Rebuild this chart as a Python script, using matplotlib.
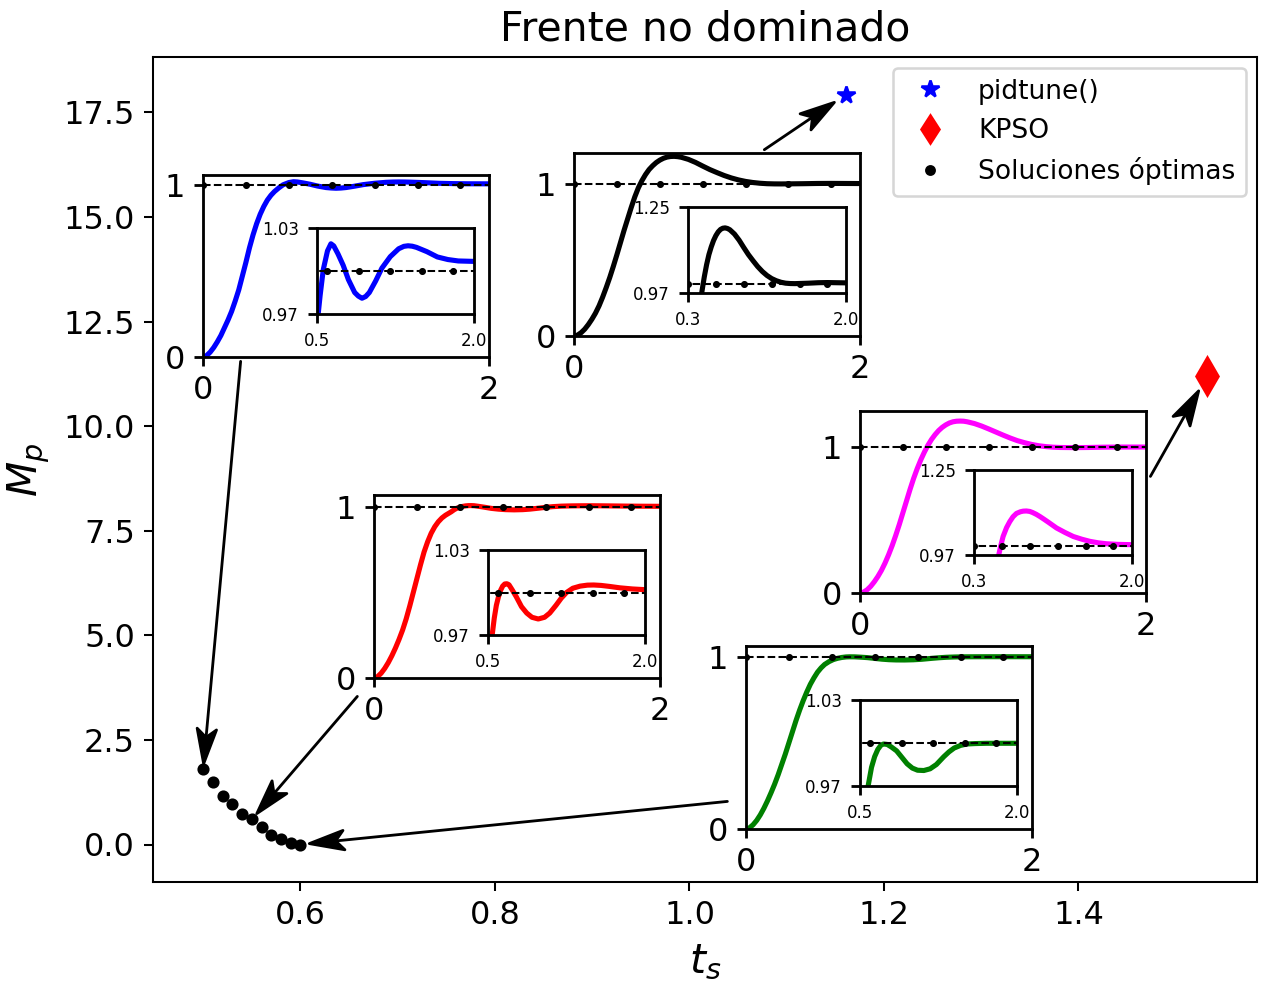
import numpy as np
import matplotlib
matplotlib.use("Agg")
import matplotlib.pyplot as plt
from matplotlib.patches import ArrowStyle
from matplotlib.path import Path
from matplotlib.lines import Line2D

# Non-dominated front: settling time vs. overshoot
front_ts = [0.50, 0.51, 0.52, 0.53, 0.54, 0.55, 0.56, 0.57, 0.58, 0.59, 0.60]
front_mp = [1.81, 1.49, 1.17, 0.97, 0.72, 0.60, 0.41, 0.22, 0.12, 0.04, 0.00]

pidtune_ts, pidtune_mp = 1.161, 17.93
kpso_ts, kpso_mp = 1.532, 11.19

# Unit reference for the step responses
ref_t = [0.0, 0.3, 0.6, 0.9, 1.2, 1.5, 1.8, 2.1]
ref_y = [1.0, 1.0, 1.0, 1.0, 1.0, 1.0, 1.0, 1.0]

# Step responses (time, output)
blue_t = [0, 0.025, 0.05, 0.075, 0.10, 0.125, 0.15, 0.175, 0.20, 0.225, 0.25, 0.275,
          0.30, 0.325, 0.35, 0.375, 0.40, 0.425, 0.45, 0.475, 0.50, 0.53, 0.56, 0.60,
          0.633, 0.66, 0.70, 0.75, 0.80, 0.86, 0.895, 0.93, 0.965, 1.00, 1.06, 1.12,
          1.20, 1.28, 1.33, 1.37, 1.41, 1.45, 1.55, 1.65, 1.75, 1.85, 2.00]
blue_y = [0, 0.008, 0.028, 0.055, 0.088, 0.125, 0.17, 0.215, 0.265, 0.325, 0.39, 0.47,
          0.55, 0.635, 0.71, 0.775, 0.83, 0.875, 0.912, 0.94, 0.962, 0.983, 1.001, 1.014,
          1.019, 1.0175, 1.012, 1.004, 0.994, 0.985, 0.9825, 0.981, 0.9822, 0.985, 0.993, 1.002,
          1.010, 1.0155, 1.0172, 1.0176, 1.0173, 1.0165, 1.0135, 1.0098, 1.008, 1.007, 1.0067]

black_t = [0, 0.025, 0.05, 0.075, 0.10, 0.125, 0.15, 0.175, 0.20, 0.225, 0.25, 0.275,
           0.30, 0.325, 0.35, 0.375, 0.40, 0.425, 0.45, 0.475, 0.50, 0.525, 0.55, 0.575,
           0.60, 0.625, 0.65, 0.675, 0.70, 0.725, 0.75, 0.80, 0.85, 0.90, 0.95, 1.00,
           1.05, 1.10, 1.15, 1.20, 1.25, 1.30, 1.35, 1.40, 1.45, 1.50, 1.60, 1.70, 1.80,
           1.90, 2.00]
black_y = [0, 0.006, 0.022, 0.045, 0.075, 0.11, 0.15, 0.198, 0.255, 0.318, 0.385, 0.458,
           0.535, 0.615, 0.695, 0.77, 0.845, 0.915, 0.975, 1.022, 1.062, 1.095, 1.12, 1.141,
           1.157, 1.169, 1.177, 1.181, 1.182, 1.18, 1.176, 1.162, 1.142, 1.118, 1.095, 1.075,
           1.056, 1.04, 1.027, 1.017, 1.01, 1.005, 1.002, 1.0008, 1.0005, 1.001, 1.002, 1.0035,
           1.004, 1.0035, 1.003]

magenta_t = [0, 0.025, 0.05, 0.075, 0.10, 0.125, 0.15, 0.175, 0.20, 0.225, 0.25, 0.275,
             0.30, 0.325, 0.35, 0.375, 0.40, 0.425, 0.45, 0.475, 0.50, 0.525, 0.55, 0.575,
             0.60, 0.625, 0.65, 0.675, 0.70, 0.725, 0.75, 0.80, 0.85, 0.90, 0.95, 1.00,
             1.05, 1.10, 1.15, 1.20, 1.25, 1.30, 1.35, 1.40, 1.50, 1.60, 1.70, 1.80, 1.90,
             2.00]
magenta_y = [0, 0.006, 0.022, 0.046, 0.077, 0.113, 0.155, 0.205, 0.262, 0.325, 0.395, 0.47,
             0.55, 0.63, 0.71, 0.785, 0.852, 0.912, 0.965, 1.012, 1.052, 1.085, 1.113, 1.135,
             1.152, 1.165, 1.173, 1.177, 1.178, 1.177, 1.173, 1.161, 1.144, 1.124, 1.103, 1.082,
             1.062, 1.044, 1.03, 1.018, 1.009, 1.003, 0.999, 0.997, 0.996, 0.997, 0.999, 1.0,
             1.0, 1.0]
magenta_zoom_t = [0.55, 0.566, 0.59, 0.613, 0.65, 0.685, 0.72, 0.757, 0.80, 0.83, 0.864,
                  0.90, 0.93, 0.97, 1.008, 1.05, 1.10, 1.188, 1.28, 1.368, 1.46, 1.547,
                  1.64, 1.727, 1.85, 2.0]
magenta_zoom_y = [0.955, 0.97, 1.003, 1.031, 1.060, 1.080, 1.096, 1.107, 1.1125, 1.1145, 1.115,
                  1.1135, 1.110, 1.104, 1.097, 1.0885, 1.078, 1.059, 1.044, 1.031, 1.022, 1.015,
                  1.010, 1.007, 1.005, 1.004]

red_t = [0, 0.025, 0.05, 0.075, 0.10, 0.125, 0.15, 0.175, 0.20, 0.225, 0.25, 0.275,
         0.30, 0.325, 0.35, 0.375, 0.40, 0.425, 0.45, 0.475, 0.50, 0.52, 0.54, 0.56,
         0.58, 0.60, 0.62, 0.64, 0.66, 0.68, 0.70, 0.73, 0.77, 0.82, 0.87, 0.92, 0.98,
         1.04, 1.09, 1.15, 1.20, 1.25, 1.31, 1.38, 1.45, 1.51, 1.58, 1.66, 1.76, 1.88, 2.00]
red_y = [0, 0.008, 0.028, 0.056, 0.09, 0.13, 0.175, 0.225, 0.28, 0.345, 0.42, 0.50,
         0.58, 0.66, 0.735, 0.795, 0.845, 0.883, 0.912, 0.934, 0.95, 0.96, 0.970, 0.982,
         0.991, 0.997, 1.0015, 1.0045, 1.006, 1.0062, 1.0055, 1.002, 0.997, 0.990, 0.9855,
         0.9825, 0.9813, 0.9825, 0.9855, 0.991, 0.996, 1.0, 1.003, 1.0045, 1.0052, 1.0053,
         1.005, 1.0043, 1.0033, 1.0025, 1.002]

green_t = [0, 0.025, 0.05, 0.075, 0.10, 0.125, 0.15, 0.175, 0.20, 0.225, 0.25, 0.275,
           0.30, 0.325, 0.35, 0.375, 0.40, 0.425, 0.45, 0.475, 0.50, 0.525, 0.55, 0.58,
           0.61, 0.64, 0.67, 0.70, 0.725, 0.76, 0.80, 0.85, 0.90, 0.95, 1.00, 1.05, 1.11,
           1.17, 1.23, 1.30, 1.35, 1.40, 1.46, 1.52, 1.60, 1.71, 2.00]
green_y = [0, 0.007, 0.025, 0.05, 0.082, 0.12, 0.163, 0.21, 0.26, 0.315, 0.375, 0.435,
           0.50, 0.565, 0.63, 0.69, 0.745, 0.795, 0.84, 0.877, 0.91, 0.935, 0.955, 0.971,
           0.983, 0.9905, 0.9955, 0.9985, 0.9993, 0.999, 0.9972, 0.9945, 0.990, 0.9855, 0.9825,
           0.981, 0.9808, 0.982, 0.985, 0.9904, 0.9938, 0.9965, 0.9983, 0.9993, 0.9996, 0.9998,
           0.9998]


class Stealth(ArrowStyle._Base):
    """Thin shaft with a filled, swept-back arrow head."""

    def __init__(self, head_length=0.68, head_width=0.19, overhang=0.24):
        self.head_length = head_length
        self.head_width = head_width
        self.overhang = overhang
        super().__init__()

    def transmute(self, path, mutation_size, linewidth):
        (x0, y0), (x1, y1) = path.vertices[0], path.vertices[-1]
        dx, dy = x1 - x0, y1 - y0
        length = np.hypot(dx, dy)
        ux, uy = dx / length, dy / length
        px, py = -uy, ux
        hl = self.head_length * mutation_size
        hw = self.head_width * mutation_size
        bx, by = x1 - ux * hl, y1 - uy * hl
        nx, ny = x1 - ux * hl * (1 - self.overhang), y1 - uy * hl * (1 - self.overhang)
        head = Path([(x1, y1), (bx + px * hw, by + py * hw), (nx, ny),
                     (bx - px * hw, by - py * hw), (x1, y1)],
                    [Path.MOVETO, Path.LINETO, Path.LINETO, Path.LINETO, Path.CLOSEPOLY])
        shaft = Path([(x0, y0), (nx, ny)], [Path.MOVETO, Path.LINETO])
        return [shaft, head], [False, True]


DPI = 184
fig = plt.figure(figsize=(1262 / DPI, 984 / DPI), dpi=DPI)
ax = fig.add_axes([153 / 1262, 102 / 984, 1104 / 1262, 825 / 984])

ax.plot(pidtune_ts, pidtune_mp, '*', color='blue', ms=7)
ax.plot(kpso_ts, kpso_mp, 'd', color='red', ms=10.5)
ax.plot(front_ts, front_mp, '.', color='black', ms=7.5)

ax.set_xticks([0.6, 0.8, 1.0, 1.2, 1.4])
ax.set_yticks([0.0, 2.5, 5.0, 7.5, 10.0, 12.5, 15.0, 17.5])
ax.tick_params(labelsize=12.5)
ax.set_xlabel('$t_s$', fontsize=16)
ax.set_ylabel('$M_p$', fontsize=16)
ax.set_title('Frente no dominado', fontsize=16, pad=6.5)

handles = [Line2D([], [], ls='none', marker='*', color='blue', ms=7),
           Line2D([], [], ls='none', marker='d', color='red', ms=8),
           Line2D([], [], ls='none', marker='.', color='black', ms=6.5)]
ax.legend(handles, ['pidtune()', 'KPSO', 'Soluciones óptimas'],
          loc='upper right', fontsize=10.4, borderaxespad=0.42)

# Arrows linking each response to its point on the chart
arrow_kw = dict(arrowstyle=Stealth(), color='black', lw=1.1, mutation_scale=20,
                shrinkA=0)
ax.annotate('', xy=(front_ts[0], front_mp[0]), xytext=(0.5385, 11.55),
            arrowprops=dict(shrinkB=2, **arrow_kw))
ax.annotate('', xy=(front_ts[5], front_mp[5]), xytext=(0.6585, 3.54),
            arrowprops=dict(shrinkB=3, **arrow_kw))
ax.annotate('', xy=(front_ts[-1], front_mp[-1]), xytext=(1.039, 1.03),
            arrowprops=dict(shrinkB=3.5, **arrow_kw))
ax.annotate('', xy=(pidtune_ts, pidtune_mp), xytext=(1.077, 16.61),
            arrowprops=dict(shrinkB=5.5, **arrow_kw))
ax.annotate('', xy=(kpso_ts, kpso_mp), xytext=(1.474, 8.80),
            arrowprops=dict(shrinkB=6.5, **arrow_kw))


def px_rect(left, top, right, bottom):
    return [left / 1262, (984 - bottom) / 984, (right - left) / 1262, (bottom - top) / 984]


def response_inset(outer, inner, t, y, color, top, zxlim, zylim, zt=None, zy=None):
    a = fig.add_axes(px_rect(*outer))
    a.plot(t, y, color=color, lw=2.0)
    a.plot(ref_t, ref_y, 'k.--', lw=0.8, ms=3.5)
    a.set_xlim(0, 2)
    a.set_ylim(0, top)
    a.set_xticks([0, 2])
    a.set_yticks([0, 1])
    a.tick_params(labelsize=12.5, width=1.1)
    for s in a.spines.values():
        s.set_linewidth(1.1)

    b = fig.add_axes(px_rect(*inner))
    b.plot(zt if zt is not None else t, zy if zy is not None else y, color=color, lw=2.0)
    b.plot(ref_t, ref_y, 'k.--', lw=0.8, ms=3.5)
    b.set_xlim(*zxlim)
    b.set_ylim(*zylim)
    b.set_xticks(list(zxlim))
    b.set_xticklabels(['%.1f' % v for v in zxlim])
    b.set_yticks(list(zylim))
    b.set_yticklabels(['%.2f' % v for v in zylim])
    b.tick_params(labelsize=6.5, width=1.1)
    for s in b.spines.values():
        s.set_linewidth(1.1)


response_inset((203, 175, 489, 357), (317, 228, 474, 314), blue_t, blue_y, 'blue', 1.058,
               (0.5, 2.0), (0.97, 1.03))
response_inset((574, 153, 860, 336), (688, 207, 846, 293), black_t, black_y, 'black', 1.204,
               (0.3, 2.0), (0.97, 1.25))
response_inset((860, 411, 1146, 593), (974, 470, 1132, 555), magenta_t, magenta_y, 'magenta',
               1.247, (0.3, 2.0), (0.97, 1.25), magenta_zoom_t, magenta_zoom_y)
response_inset((374, 495, 660, 678), (488, 550, 645, 635), red_t, red_y, 'red', 1.068,
               (0.5, 2.0), (0.97, 1.03))
response_inset((746, 646, 1032, 829), (860, 700, 1017, 786), green_t, green_y, 'green', 1.062,
               (0.5, 2.0), (0.97, 1.03))

fig.savefig('out.png', dpi=DPI)
